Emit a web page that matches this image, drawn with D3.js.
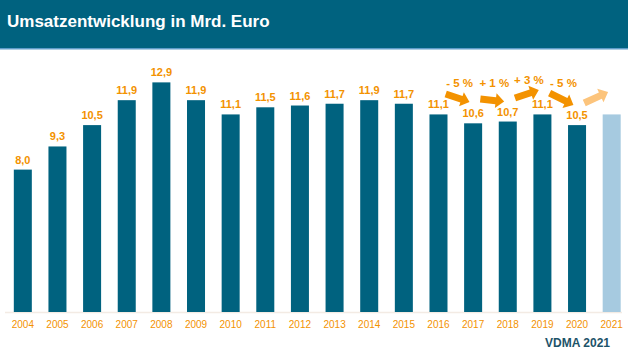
<!DOCTYPE html>
<html>
<head>
<meta charset="utf-8">
<script src="https://cdn.jsdelivr.net/npm/d3@7"></script>
<style>
  html, body { margin: 0; padding: 0; background: #fff; }
  svg { display: block; font-family: "Liberation Sans", Arial, sans-serif; }
</style>
</head>
<body>
<svg id="chart" width="628" height="353"></svg>
<script>
// Umsatzentwicklung — bars per year, forecast year lighter, change arrows at the end
const YEARS = ["2004","2005","2006","2007","2008","2009","2010","2011","2012",
               "2013","2014","2015","2016","2017","2018","2019","2020","2021"];
const VALUES = [8.0, 9.3, 10.5, 11.9, 12.9, 11.9, 11.1, 11.5, 11.6,
                11.7, 11.9, 11.7, 11.1, 10.6, 10.7, 11.1, 10.5, 11.1];
const FORECAST = ["2021"];
// change arrows: from/to year, label, arrow start/end level and label level (Mrd. Euro units)
const CHANGES = [
  {from:"2016", to:"2017", text:"- 5 %", v0:12.25, v1:11.8,  lv:12.62},
  {from:"2017", to:"2018", text:"+ 1 %", v0:11.97, v1:11.82, lv:12.62},
  {from:"2018", to:"2019", text:"+ 3 %", v0:12.02, v1:12.47, lv:12.82},
  {from:"2019", to:"2020", text:"- 5 %", v0:12.3,  v1:11.63, lv:12.62},
  {from:"2020", to:"2021", text:"",      v0:11.74, v1:12.36, lv:12.62}
];

const TEAL = "#00627f", ORANGE = "#f39200", LIGHT_ORANGE = "#fcc47c",
      LIGHT_BAR = "#a6cae0", INK = "#1d5369";
const W = 628, H = 353;
const fmt = (v) => v.toFixed(1).replace(".", ",");

const svg = d3.select("#chart");

// header band
svg.append("rect").attr("x", 0).attr("y", 0).attr("width", W).attr("height", 48)
  .attr("fill", TEAL);
svg.append("rect").attr("x", 0).attr("y", 48).attr("width", W).attr("height", 1.5)
  .attr("fill", "#5d9cc8");
svg.append("text").attr("x", 7).attr("y", 27)
  .attr("fill", "#fff").attr("font-size", 17).attr("font-weight", "bold")
  .text("Umsatzentwicklung in Mrd. Euro");

const x = d3.scaleBand().domain(YEARS).range([5.5, 629])
  .paddingInner(0.48).paddingOuter(0.24);
const y = d3.scaleLinear().domain([0, 14]).range([312, 312 - 14 * 17.8]);
const bw = x.bandwidth();

// faint baseline
svg.append("line").attr("x1", 5).attr("x2", 622).attr("y1", y(0) + 0.5).attr("y2", y(0) + 0.5)
  .attr("stroke", "#f3ebe4").attr("stroke-width", 1.5);

const rows = YEARS.map((yr, i) => ({yr, v: VALUES[i], fc: FORECAST.includes(yr)}));

svg.append("g").selectAll("rect").data(rows).join("rect")
  .attr("x", (d) => x(d.yr)).attr("y", (d) => y(d.v))
  .attr("width", bw).attr("height", (d) => y(0) - y(d.v))
  .attr("fill", (d) => d.fc ? LIGHT_BAR : TEAL);

svg.append("g").selectAll("text").data(rows.filter((d) => !d.fc)).join("text")
  .attr("x", (d) => x(d.yr) + bw / 2).attr("y", (d) => y(d.v) - 6)
  .attr("text-anchor", "middle").attr("fill", ORANGE)
  .attr("font-size", 11).attr("font-weight", "bold")
  .text((d) => fmt(d.v));

// year axis
const axis = svg.append("g").attr("transform", `translate(0,${y(0)})`)
  .call(d3.axisBottom(x).tickSize(0).tickPadding(9));
axis.select(".domain").remove();
axis.selectAll("text").attr("fill", ORANGE).attr("font-size", 10)
  .attr("font-family", "Liberation Sans, Arial, sans-serif");

// block arrows
function arrowPath(x0, y0, x1, y1) {
  const dx = x1 - x0, dy = y1 - y0, L = Math.hypot(dx, dy);
  const ux = dx / L, uy = dy / L, nx = -uy, ny = ux;
  const sw = 3.5, hw = 7.5, hl = 8.5;
  const p = (a, b) => [x0 + ux * a + nx * b, y0 + uy * a + ny * b];
  return "M" + [p(0, -sw), p(L - hl, -sw), p(L - hl, -hw), p(L, 0),
                p(L - hl, hw), p(L - hl, sw), p(0, sw)].map((q) => q.join(",")).join("L") + "Z";
}

const ann = svg.append("g");
CHANGES.forEach((c) => {
  const fc = FORECAST.includes(c.to);
  const x0 = x(c.from) + bw * 0.9, x1 = x(c.to) + bw * 0.3;
  ann.append("path").attr("d", arrowPath(x0, y(c.v0), x1, y(c.v1)))
    .attr("fill", fc ? LIGHT_ORANGE : ORANGE);
  if (c.text) {
    ann.append("text").attr("x", (x0 + x1) / 2 + 2)
      .attr("y", y(c.lv)).attr("text-anchor", "middle")
      .attr("fill", ORANGE).attr("font-size", 11.5).attr("font-weight", "bold")
      .text(c.text);
  }
});

svg.append("text").attr("x", 610).attr("y", 347).attr("text-anchor", "end")
  .attr("fill", INK).attr("font-size", 12).attr("font-weight", "bold")
  .text("VDMA 2021");
</script>
</body>
</html>
